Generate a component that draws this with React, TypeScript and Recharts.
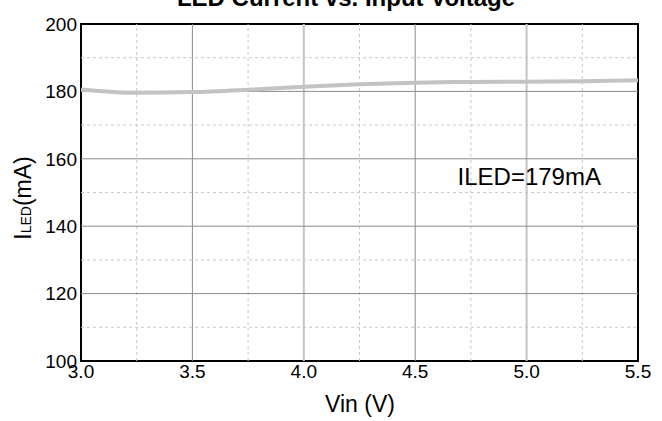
import React from 'react';
import { LineChart, Line, XAxis, YAxis, ReferenceLine, ReferenceArea, ReferenceDot, Label } from 'recharts';

// values
const vin = [3.0, 3.25, 3.5, 3.75, 4.0, 4.25, 4.5, 4.75, 5.0, 5.25, 5.5];
const iled = [180.6, 179.6, 179.8, 180.5, 181.4, 182.1, 182.6, 182.8, 182.9, 183.0, 183.3];

const xTicks = [3.0, 3.5, 4.0, 4.5, 5.0, 5.5];
const yTicks = [100, 120, 140, 160, 180, 200];
const xMinor = [3.25, 3.75, 4.25, 4.75, 5.25];
const yMinor = [110, 130, 150, 170, 190];
const xMajorDark = [3.5, 4.5];
const xMajorLight = [4.0, 5.0];
const yMajor = [120, 140, 160, 180];

const chartTitle = 'LED Current vs. Input Voltage';
const xTitle = 'Vin (V)';
const note = 'ILED=179mA';

const FONT = '"Liberation Sans", Arial, sans-serif';

export default function App() {
  const data = vin.map((v, i) => ({ vin: v, iled: iled[i] }));

  return (
    <div style={{ position: 'absolute', left: 0, top: 0, width: 662, height: 421, background: '#fff' }}>
      <LineChart
        width={662}
        height={421}
        data={data}
        margin={{ top: 24, right: 24, bottom: 30, left: 0 }}
        style={{ fontFamily: FONT }}
      >
        <XAxis
          dataKey="vin"
          type="number"
          domain={[3, 5.5]}
          ticks={xTicks}
          interval={0}
          height={30}
          allowDataOverflow
          tickFormatter={(v) => Number(v).toFixed(1)}
          tick={{ fill: '#000', fontSize: 19, fontFamily: FONT }}
          tickLine={false}
          tickSize={0}
          tickMargin={4}
          axisLine={false}
        >
          <Label
            content={() => (
              <text x={360} y={412} textAnchor="middle" fontSize={23} fill="#000" fontFamily={FONT}>
                {xTitle}
              </text>
            )}
          />
          <Label
            content={() => (
              <text x={346} y={6} textAnchor="middle" fontSize={24} fontWeight="bold" fill="#000" fontFamily={FONT}>
                {chartTitle}
              </text>
            )}
          />
        </XAxis>
        <YAxis
          type="number"
          domain={[100, 200]}
          ticks={yTicks}
          interval={0}
          width={81}
          tick={{ fill: '#000', fontSize: 19, fontFamily: FONT }}
          tickLine={false}
          tickSize={0}
          tickMargin={4}
          axisLine={false}
        >
          <Label
            content={() => (
              <text
                x={31}
                y={198}
                transform="rotate(-90, 31, 198)"
                textAnchor="middle"
                fontSize={23}
                fill="#000"
                fontFamily={FONT}
              >
                <tspan>I</tspan>
                <tspan fontSize={14}>LED</tspan>
                <tspan>(mA)</tspan>
              </text>
            )}
          />
        </YAxis>

        {/* minor dashed grid */}
        {xMinor.map((x) => (
          <ReferenceLine key={`xm-${x}`} x={x} stroke="#c8c8c8" strokeWidth={1} strokeDasharray="3 3" />
        ))}
        {yMinor.map((y) => (
          <ReferenceLine key={`ym-${y}`} y={y} stroke="#c8c8c8" strokeWidth={1} strokeDasharray="3 3" />
        ))}

        {/* major grid */}
        {xMajorDark.map((x) => (
          <ReferenceLine key={`xd-${x}`} x={x} stroke="#8c8c8c" strokeWidth={1} />
        ))}
        {xMajorLight.map((x) => (
          <ReferenceLine key={`xl-${x}`} x={x} stroke="#c4c4c4" strokeWidth={2} />
        ))}
        {yMajor.map((y) => (
          <ReferenceLine key={`y-${y}`} y={y} stroke="#8c8c8c" strokeWidth={1} />
        ))}

        <Line
          type="monotone"
          dataKey="iled"
          stroke="#c3c3c3"
          strokeWidth={4}
          dot={false}
          activeDot={false}
          isAnimationActive={false}
        />

        {/* plot frame */}
        <ReferenceArea x1={3} x2={5.5} y1={100} y2={200} fill="none" fillOpacity={0} stroke="#000" strokeWidth={2} />

        <ReferenceDot
          x={4.69}
          y={152.2}
          r={0}
          fill="none"
          stroke="none"
          label={{
            content: (props: any) => {
              const vb = props.viewBox || {};
              const cx = vb.x + (vb.width || 0) / 2;
              const cy = vb.y + (vb.height || 0) / 2;
              return (
                <text x={cx} y={cy} textAnchor="start" fontSize={24} fill="#000" fontFamily={FONT}>
                  {note}
                </text>
              );
            },
          }}
        />
      </LineChart>
    </div>
  );
}
